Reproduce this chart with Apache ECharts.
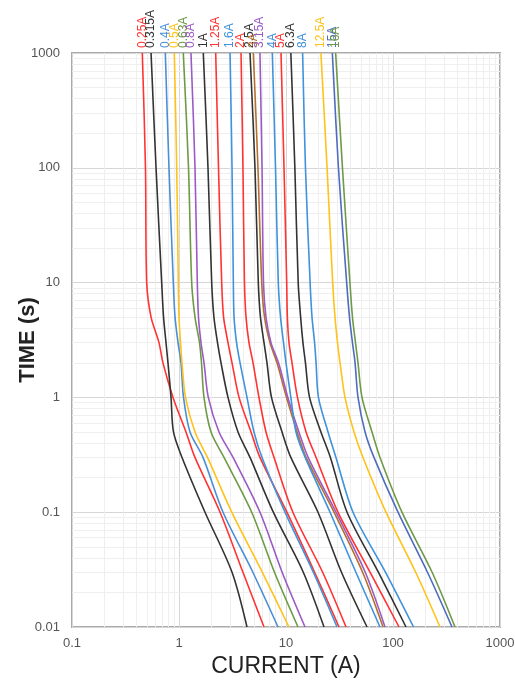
<!DOCTYPE html>
<html>
<head>
<meta charset="utf-8">
<script src="https://cdn.jsdelivr.net/npm/echarts@6/dist/echarts.min.js"></script>
<style>
html,body{margin:0;padding:0;background:#fff;}
#chart{width:515px;height:680px;}
</style>
</head>
<body>
<div id="chart"></div>
<script>
// Time points (s) at which each curve's current (A) was read
var times = [1000, 100, 10, 5, 3, 2, 1, 0.5, 0.3, 0.1, 0.03, 0.01];

var fuseNames = ['0.25A','0.315A','0.4A','0.5A','0.63A','0.8A','1A','1.25A','1.6A','2A','2.5A','3A','3.15A','4A','5A','6.3A','8A','12.5A','15A','16A'];
var fuseColors = ['#ff3333','#333333','#4a8fd6','#ffc21a','#6e9a45','#9b5bc4','#333333','#ff3333','#3f92dc','#ff3333','#333333','#b5702e','#9b5bc4','#3f92dc','#ff3333','#333333','#3f92dc','#ffc21a','#4f6cbf','#6e9a45'];

var f025  = [0.454, 0.486, 0.499, 0.548, 0.65, 0.708, 0.879, 1.162, 1.41, 2.42, 3.96, 6.23];
var f0315 = [0.548, 0.61, 0.689, 0.717, 0.756, 0.789, 0.842, 0.888, 1.067, 1.75, 3.13, 4.32];
var f04   = [0.745, 0.806, 0.885, 0.918, 0.979, 1.044, 1.102, 1.267, 1.676, 2.58, 4.9, 8.42];
var f05   = [0.904, 0.952, 0.985, 1.0, 1.033, 1.067, 1.15, 1.411, 1.846, 3.11, 6.0, 10.66];
var f063  = [1.097, 1.227, 1.314, 1.411, 1.554, 1.623, 1.713, 1.991, 2.634, 4.78, 7.8, 12.95];
var f08   = [1.294, 1.411, 1.483, 1.521, 1.605, 1.713, 1.879, 2.365, 3.2, 5.71, 9.2, 15.06];
var f1    = [1.687, 1.866, 2.021, 2.12, 2.29, 2.47, 2.87, 3.56, 4.61, 7.61, 14.5, 22.65];
var f125  = [2.203, 2.34, 2.506, 2.61, 2.87, 3.13, 3.64, 4.71, 5.71, 10.2, 18.5, 31.3];
var f16   = [3.0, 3.13, 3.22, 3.27, 3.45, 3.72, 4.32, 5.02, 5.97, 9.79, 18.0, 30.0];
var f2    = [3.8, 3.96, 4.09, 4.23, 4.51, 4.92, 5.59, 6.5, 7.73, 11.6, 22.0, 36.4];
var f25   = [4.61, 5.13, 5.51, 5.77, 6.23, 6.64, 7.32, 9.18, 11.1, 19.9, 33.0, 57.2];
var f3    = [4.95, 5.47, 5.93, 6.3, 7.08, 8.24, 10.1, 12.7, 15.4, 28.1, 52.0, 80.7];
var f315  = [5.71, 5.97, 6.16, 6.5, 7.24, 8.51, 10.4, 13.2, 16.1, 29.3, 55.0, 84.2];
var f4    = [7.45, 7.98, 8.47, 8.89, 9.48, 10.0, 11.1, 12.4, 15.1, 25.8, 45.0, 75.6];
var f5    = [8.98, 9.58, 10.15, 10.3, 10.67, 11.38, 12.8, 15.4, 19.1, 30.6, 61.0, 113.8];
var f63   = [11.1, 12.1, 13.0, 13.7, 14.4, 15.2, 16.6, 21.2, 26.0, 37.2, 73.0, 132.3];
var f8    = [14.3, 15.2, 16.8, 17.5, 18.5, 19.1, 20.1, 24.7, 29.3, 42.3, 85.0, 155.5];
var f125A = [21.2, 24.2, 27.3, 28.7, 30.3, 32.0, 35.6, 43.2, 52.4, 86.0, 163.0, 275.0];
var f15A  = [27.1, 30.9, 36.9, 39.2, 41.8, 44.2, 47.1, 54.8, 66.4, 111.3, 210.0, 356.0];
var f16A  = [29.1, 33.7, 39.6, 41.8, 44.6, 47.1, 51.3, 63.6, 75.6, 121.3, 232.0, 380.0];

var fuseCurrents = [f025, f0315, f04, f05, f063, f08, f1, f125, f16, f2, f25, f3, f315, f4, f5, f63, f8, f125A, f15A, f16A];

// Tick labels
var xTickLabels = ['0.1', '1', '10', '100', '1000'];
var yTickLabels = ['0.01', '0.1', '1', '10', '100', '1000'];

// Minor grid positions (2..9 within each decade)
var minorX = [], minorY = [];
for (var d = -1; d < 3; d++) for (var k = 2; k <= 9; k++) minorX.push(+(k * Math.pow(10, d)).toPrecision(3));
for (var d2 = -2; d2 < 3; d2++) for (var k2 = 2; k2 <= 9; k2++) minorY.push(+(k2 * Math.pow(10, d2)).toPrecision(3));

var FONT = '"Liberation Sans", Arial, sans-serif';

var series = [];
series.push({
  type: 'line', data: [], silent: true, z: 0, zlevel: 0,
  markLine: {
    silent: true, symbol: ['none', 'none'], animation: false, z: 0,
    label: {show: false},
    emphasis: {disabled: true},
    lineStyle: {type: 'solid', color: '#efefef', width: 1},
    data: minorX.map(function (v) { return {xAxis: v}; }).concat(minorY.map(function (v) { return {yAxis: v}; }))
  }
});

fuseNames.forEach(function (name, i) {
  var cur = fuseCurrents[i];
  series.push({
    name: name,
    type: 'line',
    z: 10,
    smooth: 0.3,
    showSymbol: false,
    symbol: 'none',
    lineStyle: {color: fuseColors[i], width: 1.6},
    itemStyle: {color: fuseColors[i]},
    data: times.map(function (t, j) { return [cur[j], t]; }),
    markPoint: {
      symbol: 'circle', symbolSize: 0, silent: true, animation: false, z: 12,
      itemStyle: {color: 'rgba(0,0,0,0)'},
      data: [{coord: [cur[0], times[0]]}],
      label: {
        show: true, formatter: name, position: 'top', distance: 5,
        rotate: 90, align: 'left', verticalAlign: 'middle',
        color: fuseColors[i], fontSize: 12, fontFamily: FONT
      }
    }
  });
});

var chart = echarts.init(document.getElementById('chart'), null, {renderer: 'canvas'});
chart.setOption({
  animation: false,
  backgroundColor: '#fff',
  grid: {left: 72, right: 15, top: 53, bottom: 53, outerBoundsMode: 'none', containLabel: false,
    show: true, borderColor: '#aaaaaa', borderWidth: 2, backgroundColor: 'transparent'},
  xAxis: {
    type: 'log', logBase: 10, min: 0.1, max: 1000, splitNumber: 4,
    name: 'CURRENT (A)', nameLocation: 'middle', nameGap: 28, nameMoveOverlap: false,
    nameTextStyle: {fontSize: 23, color: '#222', fontFamily: FONT},
    axisLine: {show: false}, axisTick: {show: false},
    axisLabel: {color: '#555', fontSize: 13, margin: 10, fontFamily: FONT,
      formatter: function (v) { return xTickLabels[Math.round(Math.log10(v)) + 1]; }},
    splitLine: {show: true, lineStyle: {color: '#d6d6d6', width: 1}}
  },
  yAxis: {
    type: 'log', logBase: 10, min: 0.01, max: 1000, splitNumber: 5,
    name: 'TIME (s)', nameLocation: 'middle', nameGap: 33, nameRotate: 90, nameMoveOverlap: false,
    nameTextStyle: {fontSize: 22, color: '#222', fontWeight: 'bold', fontFamily: FONT},
    axisLine: {show: false}, axisTick: {show: false},
    axisLabel: {color: '#555', fontSize: 13, margin: 12, fontFamily: FONT,
      formatter: function (v) { return yTickLabels[Math.round(Math.log10(v)) + 2]; }},
    splitLine: {show: true, lineStyle: {color: '#d6d6d6', width: 1}}
  },
  series: series
});
</script>
</body>
</html>
